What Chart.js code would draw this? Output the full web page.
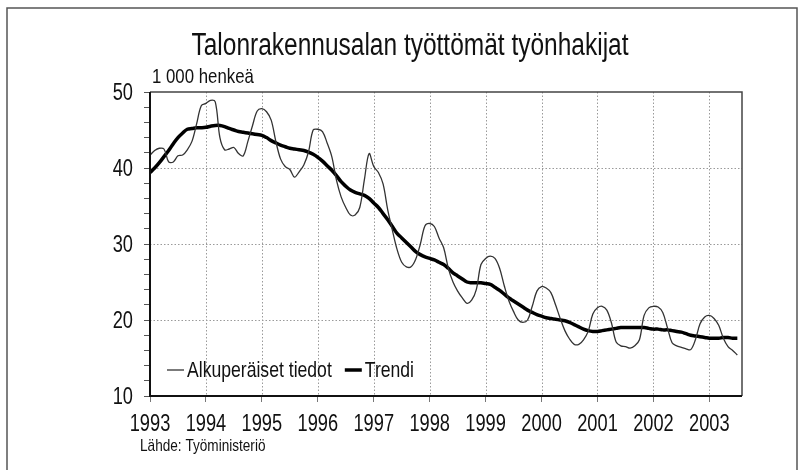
<!DOCTYPE html>
<html>
<head>
<meta charset="utf-8">
<script src="https://cdn.jsdelivr.net/npm/chart.js@4.4.0/dist/chart.umd.min.js"></script>
<style>
  html, body { margin: 0; padding: 0; background: #fff; }
  #wrap { width: 802px; height: 470px; }
</style>
</head>
<body>
<div id="wrap"><canvas id="myChart" width="802" height="470"></canvas></div>
<script>
// monthly data, first value = January 1993
const startYear = 1993;
const yearTicks = [1993, 1994, 1995, 1996, 1997, 1998, 1999, 2000, 2001, 2002, 2003];
const valueTicks = [10, 20, 30, 40, 50];

// Alkuperäiset tiedot (1 000 henkeä)
const original = [
  41.7, 42.3, 42.6, 42.5, 40.8, 40.8, 41.6, 41.7, 42.4, 43.5, 45.8, 48.2, // 1993
  48.5, 48.9, 48.7, 44.0, 42.4, 42.5, 42.7, 41.9, 41.6, 43.5, 45.6, 47.5, // 1994
  47.8, 47.4, 46.3, 43.5, 41.2, 40.2, 39.8, 38.8, 39.5, 40.4, 42.1, 45.0, // 1995
  45.1, 44.8, 43.3, 41.5, 38.4, 36.2, 34.8, 33.8, 33.8, 34.8, 38.5, 41.9, // 1996
  40.2, 39.4, 37.9, 34.5, 31.8, 29.3, 27.6, 27.0, 27.0, 28.0, 30.0, 32.4, // 1997
  32.7, 32.3, 30.8, 29.5, 26.8, 25.0, 23.8, 22.9, 22.2, 22.6, 24.0, 27.3, // 1998
  28.1, 28.4, 28.1, 26.8, 24.5, 22.5, 21.1, 20.0, 19.7, 20.0, 21.8, 23.8, // 1999
  24.4, 24.2, 23.6, 22.0, 20.2, 18.6, 17.5, 16.8, 16.8, 17.4, 18.5, 20.8, // 2000
  21.6, 21.8, 21.3, 19.6, 17.1, 16.6, 16.5, 16.3, 16.6, 17.4, 20.6, 21.6, // 2001
  21.8, 21.7, 21.0, 19.0, 17.0, 16.6, 16.4, 16.2, 16.1, 17.4, 19.5, 20.4, // 2002
  20.6, 20.2, 19.3, 17.6, 16.5, 16.0, 15.4                                // 2003
];

// Trendi
const trend = [
  39.4, 40.0, 40.7, 41.5, 42.3, 43.2, 44.0, 44.6, 45.1, 45.2, 45.3, 45.3,
  45.35, 45.5, 45.6, 45.6, 45.45, 45.2, 45.0, 44.8, 44.7, 44.6, 44.5, 44.4,
  44.3, 44.0, 43.6, 43.3, 43.0, 42.8, 42.6, 42.5, 42.4, 42.3, 42.1, 41.8,
  41.4, 40.9, 40.3, 39.7, 39.0, 38.2, 37.6, 37.1, 36.8, 36.6, 36.4, 36.0,
  35.4, 34.8, 34.0, 33.2, 32.3, 31.4, 30.8, 30.2, 29.6, 29.0, 28.6, 28.3,
  28.1, 27.9, 27.6, 27.3, 26.8, 26.2, 25.8, 25.4, 25.0, 24.9, 24.9, 24.9,
  24.8, 24.7, 24.3, 23.9, 23.4, 22.9, 22.5, 22.1, 21.7, 21.3, 21.0, 20.7,
  20.5, 20.3, 20.2, 20.1, 20.0, 19.9, 19.7, 19.4, 19.1, 18.8, 18.6, 18.5,
  18.5, 18.6, 18.7, 18.8, 18.9, 19.0, 19.0, 19.0, 19.0, 19.0, 19.0, 18.9,
  18.8, 18.8, 18.7, 18.7, 18.6, 18.5, 18.4, 18.2, 18.0, 17.9, 17.8, 17.7,
  17.6, 17.6, 17.6, 17.7, 17.7, 17.6, 17.6
];

function toPoints(arr){
    return arr.map((v, i) => ({x: startYear + i / 12, y: v}));
}

// narrow look: Liberation Sans squeezed horizontally
const FONT = '"Liberation Sans", Arial, sans-serif';
function narrowText(ctx, text, x, y, size, align, sx){
    sx = sx || 0.8;
    ctx.save();
    ctx.font = size + 'px ' + FONT;
    ctx.textAlign = 'left';
    ctx.textBaseline = 'middle';
    const w = ctx.measureText(text).width * sx;
    const x0 = align === 'center' ? x - w / 2 : (align === 'right' ? x - w : x);
    ctx.translate(x0, y);
    ctx.scale(sx, 1);
    ctx.fillText(text, 0, 0);
    ctx.restore();
    return w;
}

// frame, dotted grid, texts and legend
const decorPlugin = {
    id: 'decor',
    beforeDraw(chart){
        const ctx = chart.ctx;
        const a = chart.chartArea;
        const xs = chart.scales.x, ys = chart.scales.y;
        ctx.save();
        ctx.fillStyle = '#fff';
        ctx.fillRect(0, 0, chart.width, chart.height);
        // outer frame (open at bottom)
        ctx.strokeStyle = '#555';
        ctx.lineWidth = 1.5;
        ctx.beginPath();
        ctx.moveTo(7, 475); ctx.lineTo(7, 8); ctx.lineTo(797, 8); ctx.lineTo(797, 475);
        ctx.stroke();
        // dotted grid
        ctx.strokeStyle = '#9a9a9a';
        ctx.lineWidth = 1;
        ctx.setLineDash([1.5, 2]);
        yearTicks.forEach(y => {
            if (y === yearTicks[0]) return;
            const px = Math.round(xs.getPixelForValue(y)) + 0.5;
            ctx.beginPath(); ctx.moveTo(px, a.top); ctx.lineTo(px, a.bottom); ctx.stroke();
        });
        valueTicks.forEach(v => {
            if (v === ys.min || v === ys.max) return;
            const py = Math.round(ys.getPixelForValue(v)) + 0.5;
            ctx.beginPath(); ctx.moveTo(a.left, py); ctx.lineTo(a.right, py); ctx.stroke();
        });
        ctx.restore();
    },
    afterDraw(chart){
        const ctx = chart.ctx;
        const a = chart.chartArea;
        const xs = chart.scales.x, ys = chart.scales.y;
        ctx.save();
        // plot box
        ctx.strokeStyle = '#444';
        ctx.lineWidth = 1.5;
        ctx.beginPath();
        ctx.moveTo(a.left, a.top); ctx.lineTo(a.right, a.top); ctx.lineTo(a.right, a.bottom);
        ctx.stroke();
        ctx.strokeStyle = '#111';
        ctx.lineWidth = 2;
        ctx.beginPath();
        ctx.moveTo(a.left, a.top); ctx.lineTo(a.left, a.bottom); ctx.lineTo(a.right, a.bottom);
        ctx.stroke();

        ctx.fillStyle = '#111';
        // tick labels
        valueTicks.forEach(v => narrowText(ctx, String(v), 133, ys.getPixelForValue(v) + 1, 24, 'right', 0.76));
        yearTicks.forEach(y => narrowText(ctx, String(y), xs.getPixelForValue(y), 424, 24, 'center', 0.76));

        narrowText(ctx, 'Talonrakennusalan työttömät työnhakijat', 410, 46, 31, 'center', 0.79);
        narrowText(ctx, '1 000 henkeä', 152, 77, 21, 'left');
        narrowText(ctx, 'Lähde: Työministeriö', 140, 446, 17, 'left');

        // legend
        let x = 167;
        const ly = 370;
        chart.data.datasets.forEach(d => {
            ctx.strokeStyle = d.borderColor;
            ctx.lineWidth = d.borderWidth;
            ctx.beginPath(); ctx.moveTo(x, ly); ctx.lineTo(x + 17, ly); ctx.stroke();
            const w = narrowText(ctx, d.label, x + 20, ly + 1, 22, 'left');
            x += 20 + w + 13;
        });
        ctx.restore();
    }
};

const ctxLine = document.getElementById('myChart').getContext('2d');
const myChart = new Chart(ctxLine, {
    type: 'line',
    data: {
        datasets: [{
            label: 'Alkuperäiset tiedot',
            data: toPoints(original),
            borderColor: '#333',
            borderWidth: 1.3,
            pointRadius: 0,
            tension: 0.35
        }, {
            label: 'Trendi',
            data: toPoints(trend),
            borderColor: '#000',
            borderWidth: 3.5,
            pointRadius: 0,
            tension: 0.4
        }]
    },
    options: {
        responsive: false,
        animation: false,
        layout: { padding: { left: 0, top: 92, right: 60, bottom: 0 } },
        plugins: {
            legend: { display: false },
            tooltip: { enabled: false }
        },
        scales: {
            x: {
                type: 'linear',
                min: startYear,
                max: 2003 + 7 / 12,
                afterFit(s){ s.height = 74; },
                afterBuildTicks(s){ s.ticks = yearTicks.map(v => ({value: v})); },
                ticks: { display: false, autoSkip: false },
                grid: { drawOnChartArea: false, tickLength: 6, color: '#777' },
                border: { display: false }
            },
            y: {
                min: 10,
                max: 50,
                afterFit(s){ s.width = 150; },
                afterBuildTicks(s){
                    const t = [];
                    for (let v = 10; v <= 50; v += 2) t.push({value: v});
                    s.ticks = t;
                },
                ticks: { display: false, autoSkip: false },
                grid: { drawOnChartArea: false, tickLength: 6, color: '#555' },
                border: { display: false }
            }
        }
    },
    plugins: [decorPlugin]
});
</script>
</body>
</html>
